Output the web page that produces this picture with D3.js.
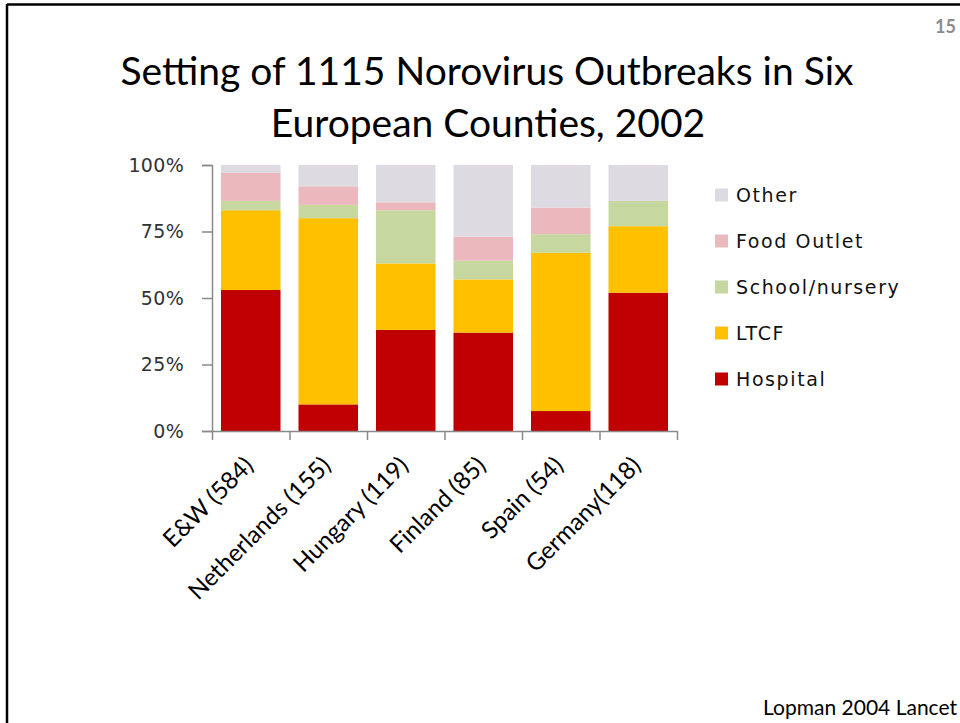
<!DOCTYPE html>
<html>
<head>
<meta charset="utf-8">
<script src="https://cdn.jsdelivr.net/npm/d3@7"></script>
<style>
  body { margin: 0; background: #fff; }
  svg { display: block; }
</style>
</head>
<body>
<svg id="chart" width="960" height="723"></svg>
<script>
// outbreak settings, % of outbreaks per country
var countries = ["E&W (584)", "Netherlands (155)", "Hungary (119)", "Finland (85)", "Spain (54)", "Germany(118)"];
var settings = ["Hospital", "LTCF", "School/nursery", "Food Outlet", "Other"];
var hospital   = [53, 10, 38, 37, 7.5, 52];
var ltcf       = [30, 70, 25, 20, 59.5, 25];
var school     = [3.5, 5, 20, 7, 7, 9.5];
var foodOutlet = [10.5, 7, 3, 9, 10, 0];
var other      = [3, 8, 14, 27, 16, 13.5];
var yTicks = [0, 25, 50, 75, 100];
var colors = ["#c00000", "#ffc000", "#c6d8a0", "#ebb9bd", "#dddbe1"];

var svg = d3.select("#chart");

// slide frame (left + top only)
svg.append("line").attr("x1", 7).attr("y1", 4.5).attr("x2", 960).attr("y2", 4.5)
  .attr("stroke", "#000").attr("stroke-width", 2.5);
svg.append("line").attr("x1", 7).attr("y1", 4).attr("x2", 7).attr("y2", 723)
  .attr("stroke", "#000").attr("stroke-width", 2.5);

svg.append("text").attr("x", 956).attr("y", 33).attr("text-anchor", "end")
  .style("font-family", "Lato, sans-serif").style("font-weight", "bold")
  .style("font-size", "18px").attr("fill", "#8c8c8c").text("15");

var title = svg.append("text").attr("text-anchor", "middle")
  .style("font-family", "Lato, sans-serif").style("font-size", "39px").attr("fill", "#000");
title.append("tspan").attr("x", 487).attr("y", 85).text("Setting of 1115 Norovirus Outbreaks in Six");
title.append("tspan").attr("x", 488).attr("y", 137).text("European Counties, 2002");

svg.append("text").attr("x", 957).attr("y", 715).attr("text-anchor", "end")
  .style("font-family", "Lato, sans-serif").style("font-size", "21px").attr("fill", "#000")
  .text("Lopman 2004 Lancet");

var plotLeft = 212, plotRight = 677, plotTop = 165, plotBottom = 431;

var rows = countries.map(function(c, i) {
  return {country: c, "Hospital": hospital[i], "LTCF": ltcf[i], "School/nursery": school[i],
          "Food Outlet": foodOutlet[i], "Other": other[i]};
});
var series = d3.stack().keys(settings)(rows);

var x = d3.scaleBand().domain(countries).range([plotLeft, plotRight]).paddingInner(0.232).paddingOuter(0.116);
var y = d3.scaleLinear().domain([0, 100]).range([plotBottom, plotTop]);
var color = d3.scaleOrdinal().domain(settings).range(colors);

svg.append("g").selectAll("g").data(series).enter().append("g")
  .attr("fill", function(d) { return color(d.key); })
  .selectAll("rect").data(function(d) { return d; }).enter().append("rect")
  .attr("x", function(d) { return x(d.data.country); })
  .attr("width", x.bandwidth())
  .attr("y", function(d) { return y(d[1]); })
  .attr("height", function(d) { return y(d[0]) - y(d[1]); });

var axisColor = "#8a8a8a";
var tickFont = "'DejaVu Sans', Verdana, sans-serif";

// y axis
var yAxis = svg.append("g").attr("transform", "translate(" + plotLeft + ",0)")
  .call(d3.axisLeft(y).tickValues(yTicks).tickSize(10).tickPadding(18)
    .tickFormat(function(d) { return d + "%"; }));
yAxis.selectAll("path, line").attr("stroke", axisColor).attr("stroke-width", 1.5);
yAxis.selectAll("text").style("font-family", tickFont).style("font-size", "19px")
  .style("letter-spacing", "0.3px").attr("fill", "#333");

// x axis: ticks sit on the category boundaries
var xb = d3.scaleLinear().domain([0, countries.length]).range([plotLeft, plotRight]);
var xAxis = svg.append("g").attr("transform", "translate(0," + plotBottom + ")")
  .call(d3.axisBottom(xb).ticks(countries.length).tickSize(9).tickSizeOuter(0).tickFormat(""));
xAxis.selectAll("path, line").attr("stroke", axisColor).attr("stroke-width", 1.5);

svg.append("g").selectAll("text").data(countries).enter().append("text")
  .attr("transform", function(d) {
    return "translate(" + (x(d) + x.bandwidth() / 2 + 4) + "," + (plotBottom + 36) + ") rotate(-45)";
  })
  .attr("text-anchor", "end")
  .style("font-family", "Lato, sans-serif").style("font-size", "24px").attr("fill", "#000")
  .text(function(d) { return d; });

// legend, top entry first
var legend = svg.append("g").selectAll("g").data(settings.slice().reverse()).enter().append("g")
  .attr("transform", function(d, i) { return "translate(715," + (195 + i * 46) + ")"; });
legend.append("rect").attr("x", 0).attr("y", -6.5).attr("width", 13).attr("height", 13)
  .attr("fill", function(d) { return color(d); });
legend.append("text").attr("x", 21).attr("y", 7)
  .style("font-family", tickFont).style("font-size", "19px").style("letter-spacing", "1.6px")
  .attr("fill", "#111").text(function(d) { return d; });
</script>
</body>
</html>
